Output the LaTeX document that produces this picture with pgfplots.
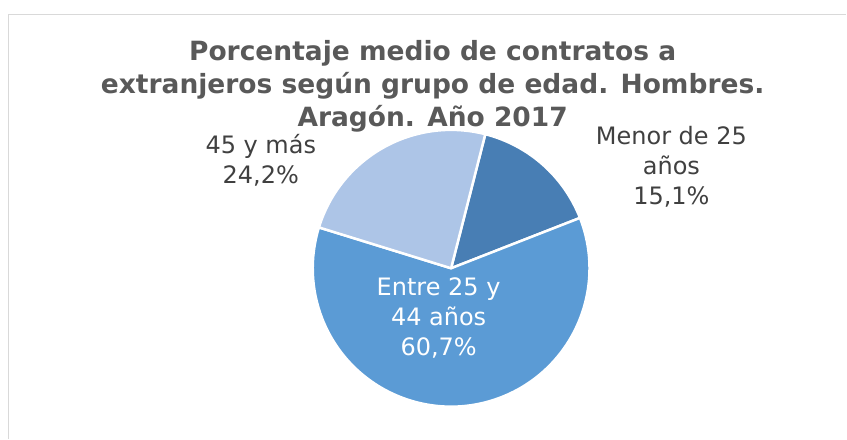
\documentclass[border=0pt]{standalone}
\usepackage{pgfplots}
\pgfplotsset{compat=1.18}
\usepackage{pgfplotstable}
\usepackage{fontspec}
\setmainfont{DejaVu Sans}
\definecolor{cMenor}{RGB}{72,126,180}
\definecolor{cEntre}{RGB}{91,155,213}
\definecolor{cMas}{RGB}{173,197,231}
\definecolor{titlegray}{RGB}{89,89,89}
\definecolor{labelgray}{RGB}{64,64,64}
\definecolor{framegray}{RGB}{217,217,217}

\pgfplotstableread{
label value
Menor 15.1
Entre 60.7
Mas 24.2
}\piedata

\begin{document}
\begin{tikzpicture}
\pgfplotstablegetelem{0}{value}\of\piedata \let\vA\pgfplotsretval
\pgfplotstablegetelem{1}{value}\of\piedata \let\vB\pgfplotsretval
\pgfplotstablegetelem{2}{value}\of\piedata \let\vC\pgfplotsretval
\pgfmathsetmacro\aA{75.7}
\pgfmathsetmacro\aB{\aA-\vA*3.6}
\pgfmathsetmacro\aC{\aB-\vB*3.6}
\pgfmathsetmacro\aD{\aC-\vC*3.6}
\def\cx{451.5}\def\cy{268.5}\def\R{138.5bp}
\begin{axis}[
  scale only axis, width=847bp, height=439bp,
  xmin=0, xmax=847, ymin=0, ymax=439, y dir=reverse,
  hide axis, clip=false,
]
\path (axis cs:0,0) rectangle (axis cs:847,439);
\draw[framegray, line width=1.5bp] (axis cs:8.5,439) -- (axis cs:8.5,14.5) -- (axis cs:847,14.5);
\fill[cMenor, draw=white, line width=2.5bp, line join=round] (axis cs:\cx,\cy) -- ([shift={(\aA:\R)}]axis cs:\cx,\cy) arc[start angle=\aA, end angle=\aB, radius=\R] -- cycle;
\fill[cEntre, draw=white, line width=2.5bp, line join=round] (axis cs:\cx,\cy) -- ([shift={(\aB:\R)}]axis cs:\cx,\cy) arc[start angle=\aB, end angle=\aC, radius=\R] -- cycle;
\fill[cMas, draw=white, line width=2.5bp, line join=round] (axis cs:\cx,\cy) -- ([shift={(\aC:\R)}]axis cs:\cx,\cy) arc[start angle=\aC, end angle=\aD, radius=\R] -- cycle;
\node[align=center, text=titlegray, font=\fontsize{26.5bp}{33bp}\selectfont\bfseries] at (axis cs:433,86) {Porcentaje medio de contratos a\\extranjeros según grupo de edad. Hombres.\\Aragón. Año 2017};
\node[align=center, text=labelgray, font=\fontsize{24bp}{30bp}\selectfont] at (axis cs:672,167) {Menor de 25\\años\\15,1\%};
\node[align=center, text=labelgray, font=\fontsize{24bp}{30bp}\selectfont] at (axis cs:261,160.5) {45 y más\\24,2\%};
\node[align=center, text=white, font=\fontsize{24bp}{30bp}\selectfont] at (axis cs:439,318) {Entre 25 y\\44 años\\60,7\%};
\end{axis}
\end{tikzpicture}
\end{document}
